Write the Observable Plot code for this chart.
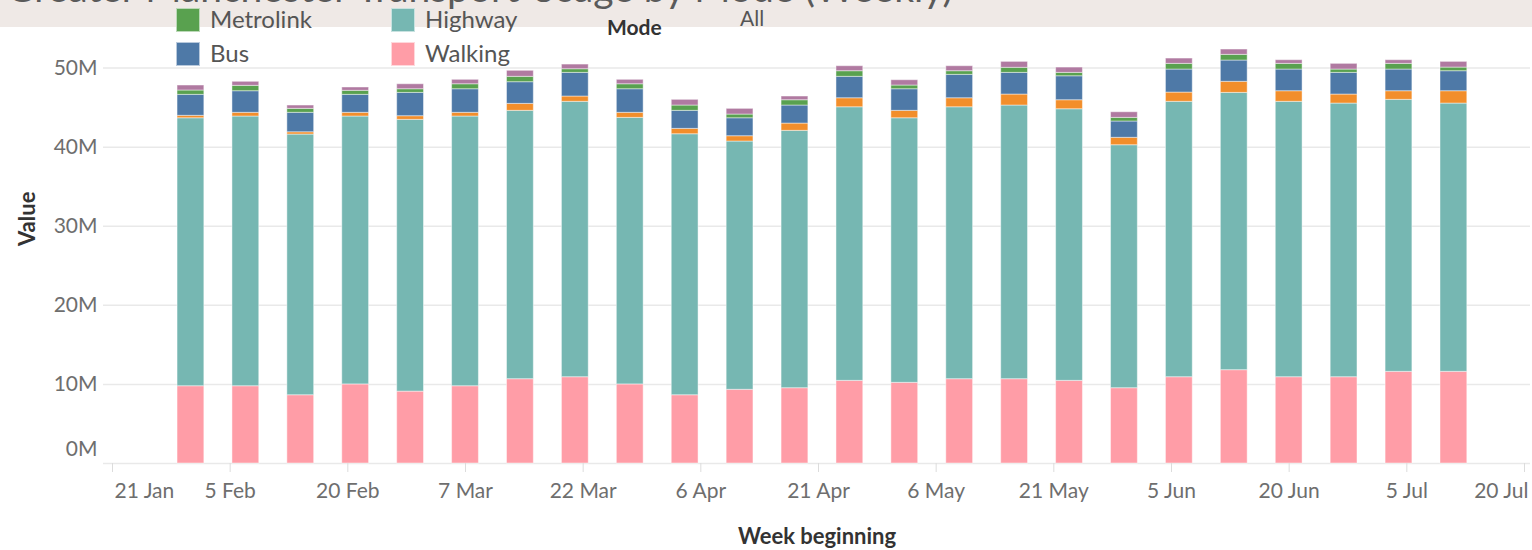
<!DOCTYPE html>
<html>
<head>
<meta charset="utf-8">
<script src="https://cdn.jsdelivr.net/npm/d3@7"></script>
<script src="https://cdn.jsdelivr.net/npm/@observablehq/plot@0.6"></script>
<style>
  body { margin: 0; background: white; font-family: Lato, "Noto Sans", sans-serif; }
  #wrap { position: relative; width: 1532px; height: 550px; overflow: hidden; background: white; }
  #wrap svg.chart { position: absolute; left: 0; top: 0; }
  #band { position: absolute; left: 0; top: 0; width: 1532px; height: 27px; background: #efe9e6; overflow: hidden; }
  #title { position: absolute; left: 6px; top: -32px; font-size: 39px; line-height: 39px; color: #5a5a5a; white-space: nowrap; }
  .sw { position: absolute; width: 24px; height: 24px; box-sizing: border-box; border: 1px solid rgba(255,255,255,0.6); }
  .lt { position: absolute; font-size: 24px; line-height: 24px; color: #555; white-space: nowrap; }
</style>
</head>
<body>
<div id="wrap">
  <div id="band"><div id="title">Greater Manchester Transport Usage by Mode (Weekly)</div></div>
</div>
<script>
// Week beginning dates (Mondays)
const weeks = ["2022-01-31","2022-02-07","2022-02-14","2022-02-21","2022-02-28","2022-03-07","2022-03-14","2022-03-21","2022-03-28","2022-04-04","2022-04-11","2022-04-18","2022-04-25","2022-05-02","2022-05-09","2022-05-16","2022-05-23","2022-05-30","2022-06-06","2022-06-13","2022-06-20","2022-06-27","2022-07-04","2022-07-11"];

// Values in millions, per mode
const walking   = [9.77, 9.77, 8.63, 10.00, 9.09, 9.77, 10.66, 10.91, 10.00, 8.63, 9.32, 9.52, 10.45, 10.20, 10.66, 10.66, 10.45, 9.52, 10.91, 11.80, 10.91, 10.91, 11.59, 11.59];
const highway   = [33.88, 34.10, 32.96, 33.87, 34.36, 34.10, 33.93, 34.82, 33.70, 33.00, 31.39, 32.54, 34.59, 33.45, 34.38, 34.60, 34.34, 30.72, 34.82, 35.06, 34.82, 34.60, 34.39, 33.92];
const cycling   = [0.31, 0.47, 0.29, 0.47, 0.46, 0.47, 0.88, 0.67, 0.64, 0.68, 0.67, 0.92, 1.14, 0.94, 1.14, 1.39, 1.14, 0.94, 1.17, 1.40, 1.34, 1.14, 1.09, 1.56];
const bus       = [2.65, 2.73, 2.46, 2.27, 2.95, 2.98, 2.74, 2.99, 2.98, 2.28, 2.27, 2.28, 2.71, 2.73, 2.96, 2.74, 3.03, 2.06, 2.91, 2.69, 2.74, 2.74, 2.74, 2.53];
const metrolink = [0.55, 0.68, 0.50, 0.51, 0.46, 0.63, 0.68, 0.46, 0.63, 0.67, 0.47, 0.67, 0.71, 0.47, 0.46, 0.64, 0.43, 0.46, 0.72, 0.72, 0.72, 0.42, 0.72, 0.46];
const rail      = [0.63, 0.51, 0.42, 0.42, 0.63, 0.56, 0.76, 0.59, 0.56, 0.72, 0.72, 0.47, 0.63, 0.67, 0.63, 0.75, 0.67, 0.71, 0.67, 0.67, 0.46, 0.72, 0.46, 0.72];

const modes  = ["Walking", "Highway", "Cycling", "Bus", "Metrolink", "Rail"];
const colors = ["#ff9da7", "#76b7b2", "#f28e2b", "#4e79a7", "#59a14f", "#b07aa1"];
const yTicks = [0, 10, 20, 30, 40, 50];
const xTicks = ["2022-01-21","2022-02-05","2022-02-20","2022-03-07","2022-03-22","2022-04-06","2022-04-21","2022-05-06","2022-05-21","2022-06-05","2022-06-20","2022-07-05","2022-07-20"];
const legendModes = [["Metrolink", 0, 0], ["Highway", 1, 0], ["Bus", 0, 1], ["Walking", 1, 1]];

const seriesList = [walking, highway, cycling, bus, metrolink, rail];
const rows = modes.flatMap((m, k) => weeks.map((w, i) => ({date: new Date(w), mode: m, value: seriesList[k][i]})));
const xTickDates = xTicks.map(d => new Date(d));
const fmt = d3.utcFormat("%-d %b");
const halfBar = 41 * 3600e3;

const {x: _x, y: _y, ...stacked} = Plot.stackY({order: modes}, {
  x: "date",
  x1: d => new Date(+d.date - halfBar),
  x2: d => new Date(+d.date + halfBar),
  y: "value",
  fill: "mode",
  stroke: "white",
  strokeOpacity: 0.45,
  strokeWidth: 1
});

const chart = Plot.plot({
  width: 1532,
  height: 550,
  marginTop: 28,
  marginBottom: 87,
  marginLeft: 103,
  marginRight: 2,
  style: {fontFamily: "Lato, 'Noto Sans', sans-serif", fontSize: "21px", background: "white", color: "#666"},
  x: {type: "utc", domain: [new Date("2022-01-19T20:28Z"), new Date("2022-07-20T18:21Z")]},
  y: {domain: [0, 55]},
  color: {domain: modes, range: colors},
  marks: [
    Plot.gridY(yTicks, {stroke: "#e9e9e9", strokeOpacity: 1, strokeWidth: 1.5}),
    Plot.rect(rows, stacked),
    Plot.axisY(yTicks.slice(1), {tickSize: 0, tickPadding: 6, tickFormat: d => d + "M", fill: "#6e6e6e", label: null}),
    Plot.axisY([0], {tickSize: 0, tickPadding: 6, tickFormat: d => d + "M", fill: "#6e6e6e", dy: -14, label: null}),
    Plot.axisX(xTickDates, {tickSize: 9, stroke: "#dcdcdc", tickFormat: () => "", label: null}),
    Plot.axisX(xTickDates.slice(1, -1), {tickSize: 0, tickPadding: 20, tickFormat: fmt, fill: "#6e6e6e", label: null}),
    Plot.axisX(xTickDates.slice(0, 1), {tickSize: 0, tickPadding: 20, tickFormat: fmt, fill: "#6e6e6e", textAnchor: "start", dx: 2, label: null}),
    Plot.axisX(xTickDates.slice(-1), {tickSize: 0, tickPadding: 20, tickFormat: fmt, fill: "#6e6e6e", textAnchor: "end", dx: 4, label: null}),
    Plot.text(["Value"], {frameAnchor: "left", dx: -76, rotate: -90, fontWeight: "bold", fontSize: 22, fill: "#333"}),
    Plot.text(["Week beginning"], {frameAnchor: "bottom", dy: 80, fontWeight: "bold", fontSize: 22, fill: "#333"})
  ]
});
chart.classList.add("chart");
const wrap = document.getElementById("wrap");
wrap.insertBefore(chart, wrap.firstChild);

// Legend (as in the cropped Tableau legend)
const colorOf = m => colors[modes.indexOf(m)];
for (const [m, col, row] of legendModes) {
  const sw = document.createElement("div");
  sw.className = "sw";
  sw.style.left = (176 + col * 215) + "px";
  sw.style.top = (8 + row * 34) + "px";
  sw.style.background = colorOf(m);
  wrap.appendChild(sw);
  const t = document.createElement("div");
  t.className = "lt";
  t.textContent = m;
  t.style.left = (210 + col * 215) + "px";
  t.style.top = (7 + row * 34) + "px";
  wrap.appendChild(t);
}
const modeLbl = document.createElement("div");
modeLbl.className = "lt";
modeLbl.textContent = "Mode";
modeLbl.style.cssText += "left:607px;top:15px;font-weight:bold;color:#333;font-size:21px;";
wrap.appendChild(modeLbl);
const allLbl = document.createElement("div");
allLbl.className = "lt";
allLbl.textContent = "All";
allLbl.style.cssText += "left:740px;top:6px;font-size:21px;";
wrap.appendChild(allLbl);
</script>
</body>
</html>
